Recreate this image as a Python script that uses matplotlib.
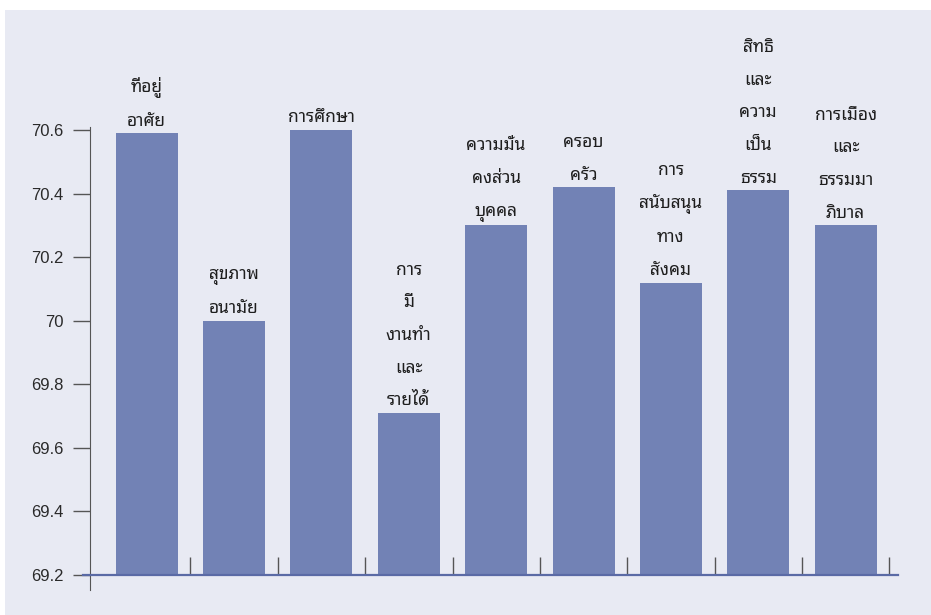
import matplotlib
matplotlib.use('Agg')
import matplotlib.pyplot as plt
from matplotlib import font_manager
from matplotlib.patches import Rectangle

# ---- data ----
categories = [
    "ที่อยู่\nอาศัย",
    "สุขภาพ\nอนามัย",
    "การศึกษา",
    "การ\nมี\nงานทำ\nและ\nรายได้",
    "ความมั่น\nคงส่วน\nบุคคล",
    "ครอบ\nครัว",
    "การ\nสนับสนุน\nทาง\nสังคม",
    "สิทธิ\nและ\nความ\nเป็น\nธรรม",
    "การเมือง\nและ\nธรรมมา\nภิบาล",
]
values = [70.59, 70.0, 70.6, 69.71, 70.3, 70.42, 70.12, 70.41, 70.3]
yticks = [69.2, 69.4, 69.6, 69.8, 70.0, 70.2, 70.4, 70.6]
ytick_labels = ["69.2", "69.4", "69.6", "69.8", "70", "70.2", "70.4", "70.6"]
baseline = 69.2

# ---- find a font with Thai glyphs ----
thai_fams = []
try:
    from fontTools.ttLib import TTFont
    for f in font_manager.fontManager.ttflist:
        try:
            tt = TTFont(f.fname, fontNumber=0, lazy=True)
            cmap = tt.getBestCmap()
            if cmap and 0x0E01 in cmap and f.name not in thai_fams:
                thai_fams.append(f.name)
        except Exception:
            pass
except Exception:
    pass
thai_fams.sort(key=lambda n: (0 if 'Thai' in n else 1, 0 if 'Noto' in n else 1))
fams = thai_fams[:1] + ['Liberation Sans', 'DejaVu Sans']

fig = plt.figure(figsize=(9.31, 6.15), dpi=100)
fig.patch.set_facecolor('white')
fig.patches.append(Rectangle((5/931, 0), 1, 605/615, transform=fig.transFigure,
                             facecolor='#E8EAF3', edgecolor='none', zorder=-1))

ax = fig.add_axes([90/931, 25/615, 808/931, 530/615])
ax.set_facecolor('none')

x = list(range(len(values)))
ax.bar(x, [v - baseline for v in values], bottom=baseline, width=0.71,
       color='#7282B5', zorder=2)

ax.set_xlim(-0.65, 8.6)
ax.set_ylim(69.153, 70.82)

for s in ['top', 'right']:
    ax.spines[s].set_visible(False)
ax.spines['left'].set_bounds(69.153, 70.61)
ax.spines['left'].set_color('#555555')
ax.spines['bottom'].set_position(('data', baseline))
ax.spines['bottom'].set_bounds(-0.73, 8.6)
ax.spines['bottom'].set_color('#5A6AA5')
ax.spines['bottom'].set_linewidth(1.6)
ax.spines['bottom'].set_zorder(3)

ax.set_yticks(yticks)
ax.set_yticklabels(ytick_labels, family=['Liberation Sans', 'DejaVu Sans'])
ax.tick_params(axis='y', direction='out', length=12, width=1, color='#555555',
               labelsize=12, labelcolor='#2A2A2A', pad=7)

ax.set_xticks([i + 0.5 for i in range(len(categories))])
ax.set_xticklabels([])
ax.tick_params(axis='x', direction='in', length=13, width=1, color='#555555')

for i, (lab, v) in enumerate(zip(categories, values)):
    ax.annotate(lab, (i, v), xytext=(0, 2.5), textcoords='offset points',
                ha='center', va='bottom', multialignment='center',
                fontsize=12.5, fontweight='bold', linespacing=2.05,
                family=fams, color='#1E1E1E', annotation_clip=False)

fig.savefig('out.png', dpi=100)
